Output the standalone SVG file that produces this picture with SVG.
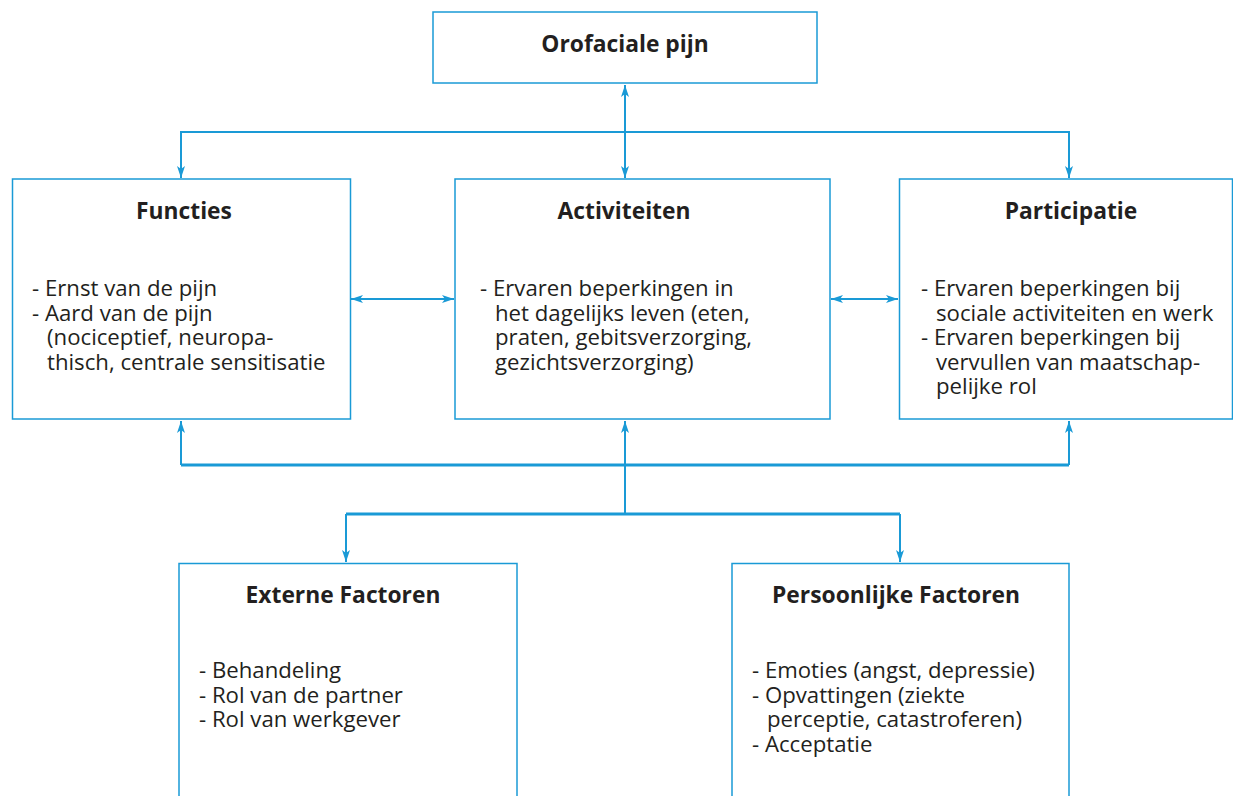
<svg xmlns="http://www.w3.org/2000/svg" width="1233" height="796" viewBox="0 0 1233 796">
<defs>
<marker id="ah" viewBox="0 0 12 8" refX="12" refY="4" markerWidth="12" markerHeight="8" markerUnits="userSpaceOnUse" orient="auto-start-reverse">
<path d="M0,0 L12,4 L0,8 L3,4 Z" fill="#1a9ad6"/>
</marker>
<style>
.box{fill:#fff;stroke:#1a9ad6;stroke-width:1.5}
.t{font-family:"Open Sans",Lato,sans-serif;font-weight:bold;font-size:22.8px;fill:#231f20;text-anchor:middle}
.b{font-family:"Open Sans",Lato,sans-serif;font-size:22.2px;fill:#231f20}
.c{fill:none;stroke:#1a9ad6;stroke-width:2}
.c3{fill:none;stroke:#1a9ad6;stroke-width:3}
</style>
</defs>
<rect width="1233" height="796" fill="#fff"/>
<g id="connectors">
<line class="c" x1="625" y1="85" x2="625" y2="178" marker-start="url(#ah)" marker-end="url(#ah)"/>
<polyline class="c" points="181,178 181,132 1069,132 1069,178" marker-start="url(#ah)" marker-end="url(#ah)"/>
<line class="c" x1="351" y1="299" x2="454" y2="299" marker-start="url(#ah)" marker-end="url(#ah)"/>
<line class="c" x1="831" y1="299" x2="898" y2="299" marker-start="url(#ah)" marker-end="url(#ah)"/>
<polyline class="c3" points="181,465 1069,465"/>
<line class="c" x1="181" y1="465" x2="181" y2="421" marker-end="url(#ah)"/>
<line class="c" x1="1069" y1="465" x2="1069" y2="421" marker-end="url(#ah)"/>
<line class="c" x1="625" y1="514" x2="625" y2="421" marker-end="url(#ah)"/>
<polyline class="c3" points="346,514 900,514"/>
<line class="c" x1="346" y1="514" x2="346" y2="562" marker-end="url(#ah)"/>
<line class="c" x1="900" y1="514" x2="900" y2="562" marker-end="url(#ah)"/>
</g>
<g id="orofaciale">
<rect class="box" x="433" y="12" width="384" height="71"/>
<text class="t" x="625" y="52">Orofaciale pijn</text>
</g>
<g id="functies">
<rect class="box" x="12.5" y="179" width="338" height="240"/>
<text class="t" x="184" y="219">Functies</text>
<text class="b"><tspan x="32" y="296">- Ernst van de pijn</tspan><tspan x="32" y="320.5">- Aard van de pijn</tspan><tspan x="47" y="345">(nociceptief, neuropa-</tspan><tspan x="47" y="369.5">thisch, centrale sensitisatie</tspan></text>
</g>
<g id="activiteiten">
<rect class="box" x="455" y="179" width="375" height="240"/>
<text class="t" x="624" y="219">Activiteiten</text>
<text class="b"><tspan x="480" y="296">- Ervaren beperkingen in</tspan><tspan x="495" y="320.5">het dagelijks leven (eten,</tspan><tspan x="495" y="345">praten, gebitsverzorging,</tspan><tspan x="495" y="369.5">gezichtsverzorging)</tspan></text>
</g>
<g id="participatie">
<rect class="box" x="899.5" y="179" width="333" height="240"/>
<text class="t" x="1071" y="219">Participatie</text>
<text class="b"><tspan x="921" y="296">- Ervaren beperkingen bij</tspan><tspan x="936" y="320.5">sociale activiteiten en werk</tspan><tspan x="921" y="345">- Ervaren beperkingen bij</tspan><tspan x="936" y="369.5">vervullen van maatschap-</tspan><tspan x="936" y="394">pelijke rol</tspan></text>
</g>
<g id="externe">
<rect class="box" x="179" y="563.5" width="338" height="240"/>
<text class="t" x="343" y="603">Externe Factoren</text>
<text class="b"><tspan x="199" y="678">- Behandeling</tspan><tspan x="199" y="702.5">- Rol van de partner</tspan><tspan x="199" y="727">- Rol van werkgever</tspan></text>
</g>
<g id="persoonlijke">
<rect class="box" x="732" y="563.5" width="337" height="240"/>
<text class="t" x="896" y="603">Persoonlijke Factoren</text>
<text class="b"><tspan x="752" y="678">- Emoties (angst, depressie)</tspan><tspan x="752" y="702.5">- Opvattingen (ziekte</tspan><tspan x="767" y="727">perceptie, catastroferen)</tspan><tspan x="752" y="751.5">- Acceptatie</tspan></text>
</g>
</svg>
